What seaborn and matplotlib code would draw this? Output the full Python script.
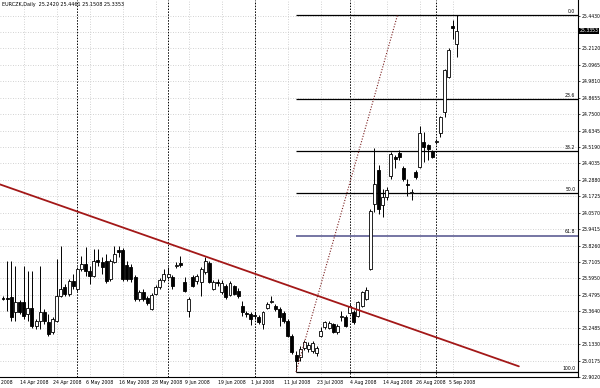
import numpy as np
import matplotlib
matplotlib.use("Agg")
import matplotlib.pyplot as plt
import seaborn as sns
from matplotlib.transforms import blended_transform_factory

# ---------------- data ----------------
chart_title = "EURCZK,Daily  25.2420 25.4461 25.1508 25.3353"

opens = [
    23.456, 23.456, 23.463, 23.358, 23.428, 23.428, 23.344, 23.386, 23.260, 23.295,
    23.358, 23.288, 23.218, 23.295, 23.470, 23.533, 23.484, 23.575, 23.519, 23.660,
    23.695, 23.646, 23.610, 23.723, 23.709, 23.716, 23.589, 23.709, 23.793, 23.793,
    23.688, 23.674, 23.603, 23.449, 23.498, 23.456, 23.379, 23.484, 23.533, 23.582,
    23.603, 23.603, 23.681, 23.702, 23.568, 23.365, 23.603, 23.575, 23.568, 23.639,
    23.702, 23.519, 23.568, 23.498, 23.540, 23.477, 23.540, 23.505, 23.400, 23.351,
    23.344, 23.337, 23.323, 23.274, 23.386, 23.428, 23.400, 23.379, 23.351, 23.295,
    23.190, 23.056, 23.042, 23.106, 23.099, 23.085, 23.071, 23.190, 23.253, 23.246,
    23.274, 23.218, 23.323, 23.323, 23.351, 23.358, 23.330, 23.400, 23.449, 23.660,
    24.115, 24.361, 24.108, 24.165, 24.312, 24.452, 24.480, 24.375, 24.256, 24.193,
    24.347, 24.382, 24.557, 24.536, 24.494, 24.557, 24.621, 24.767, 25.013, 25.371,
    25.242]
closes = [
    23.452, 23.449, 23.323, 23.428, 23.358, 23.330, 23.386, 23.260, 23.295, 23.358,
    23.295, 23.204, 23.309, 23.470, 23.519, 23.484, 23.575, 23.540, 23.660, 23.695,
    23.646, 23.610, 23.716, 23.709, 23.674, 23.575, 23.716, 23.765, 23.779, 23.589,
    23.589, 23.589, 23.449, 23.498, 23.449, 23.421, 23.477, 23.533, 23.582, 23.624,
    23.624, 23.540, 23.688, 23.688, 23.505, 23.449, 23.540, 23.610, 23.660, 23.716,
    23.568, 23.568, 23.565, 23.561, 23.463, 23.561, 23.484, 23.470, 23.358, 23.344,
    23.309, 23.330, 23.288, 23.358, 23.414, 23.435, 23.379, 23.323, 23.295, 23.190,
    23.078, 23.014, 23.099, 23.148, 23.127, 23.141, 23.106, 23.225, 23.288, 23.281,
    23.218, 23.260, 23.330, 23.260, 23.400, 23.288, 23.428, 23.498, 23.512, 24.066,
    24.256, 24.080, 24.165, 24.214, 24.473, 24.438, 24.452, 24.291, 24.249, 24.200,
    24.305, 24.621, 24.522, 24.508, 24.452, 24.560, 24.733, 25.062, 25.202, 25.357,
    25.335]
highs = [
    23.470, 23.716, 23.716, 23.681, 23.442, 23.681, 23.646, 23.646, 23.309, 23.681,
    23.379, 23.344, 23.323, 23.730, 23.821, 23.554, 23.589, 23.624, 23.674, 23.751,
    23.814, 23.681, 23.800, 23.800, 23.744, 23.765, 23.730, 23.821, 23.821, 23.807,
    23.716, 23.695, 23.617, 23.512, 23.519, 23.470, 23.491, 23.547, 23.596, 23.660,
    23.674, 23.617, 23.709, 23.751, 23.603, 23.463, 23.617, 23.624, 23.674, 23.744,
    23.716, 23.582, 23.589, 23.582, 23.554, 23.575, 23.547, 23.526, 23.435, 23.365,
    23.358, 23.358, 23.337, 23.365, 23.428, 23.470, 23.414, 23.393, 23.365, 23.309,
    23.204, 23.085, 23.120, 23.162, 23.148, 23.155, 23.120, 23.253, 23.295, 23.295,
    23.281, 23.274, 23.365, 23.337, 23.414, 23.372, 23.435, 23.505, 23.533, 24.080,
    24.515, 24.396, 24.221, 24.235, 24.487, 24.466, 24.501, 24.389, 24.291, 24.221,
    24.361, 24.668, 24.628, 24.543, 24.501, 24.578, 24.740, 25.069, 25.216, 25.413,
    25.446]
lows = [
    23.442, 23.365, 23.295, 23.295, 23.344, 23.309, 23.295, 23.246, 23.239, 23.239,
    23.274, 23.190, 23.204, 23.288, 23.463, 23.470, 23.470, 23.519, 23.505, 23.646,
    23.610, 23.554, 23.603, 23.681, 23.624, 23.561, 23.575, 23.702, 23.744, 23.575,
    23.575, 23.568, 23.435, 23.435, 23.435, 23.407, 23.372, 23.477, 23.519, 23.568,
    23.589, 23.519, 23.667, 23.674, 23.498, 23.323, 23.533, 23.554, 23.470, 23.624,
    23.561, 23.512, 23.540, 23.484, 23.449, 23.470, 23.477, 23.456, 23.330, 23.323,
    23.267, 23.309, 23.274, 23.239, 23.379, 23.421, 23.365, 23.260, 23.281, 23.183,
    23.063, 22.937, 23.014, 23.092, 23.078, 23.071, 23.049, 23.183, 23.239, 23.239,
    23.211, 23.204, 23.295, 23.253, 23.344, 23.274, 23.323, 23.393, 23.442, 23.653,
    24.059, 24.045, 24.024, 24.150, 24.291, 24.375, 24.431, 24.277, 24.172, 24.150,
    24.291, 24.375, 24.417, 24.431, 24.445, 24.543, 24.592, 24.733, 25.006, 25.280,
    25.151]

date_labels = ["2 Apr 2008", "14 Apr 2008", "24 Apr 2008", "6 May 2008", "16 May 2008",
               "28 May 2008", "9 Jun 2008", "19 Jun 2008", "1 Jul 2008", "11 Jul 2008",
               "23 Jul 2008", "4 Aug 2008", "14 Aug 2008", "26 Aug 2008", "5 Sep 2008"]
date_label_bars = [-3, 5, 13, 21, 29, 37, 45, 53, 61, 69, 77, 85, 93, 101, 109]
month_start_bars = [18, 40, 61, 84, 105]

price_ticks = [22.9020, 23.0175, 23.1330, 23.2485, 23.3640, 23.4795, 23.5950, 23.7105,
               23.8260, 23.9415, 24.0570, 24.1725, 24.2880, 24.4035, 24.5190, 24.6345,
               24.7500, 24.8655, 24.9810, 25.0965, 25.2120, 25.3275, 25.4430]
price_tick_labels = ["22.9020", "23.0175", "23.1330", "23.2485", "23.3640", "23.4795",
                     "23.5950", "23.7105", "23.8260", "23.9415", "24.0570", "24.1725",
                     "24.2880", "24.4035", "24.5190", "24.6345", "24.7500", "24.8655",
                     "24.9810", "25.0965", "25.2120", "", "25.4430"]
bid_price = 25.3353

trend_bars = [-1, 125]
trend_prices = [24.259, 22.977]

fib_high = 25.448
fib_low = 22.937
fib_start_bar = 71
fib_ratios = [0.0, 0.236, 0.382, 0.5, 0.618, 1.0]
fib_labels = ["0.0", "23.6", "38.2", "50.0", "61.8", "100.0"]
fib_diag_bars = [71, 95.6]
fib_diag_prices = [22.937, 25.448]

# ---------------- style ----------------
sns.set_theme(style="white")
plt.rcParams["font.family"] = ["DejaVu Sans"]

fig = plt.figure(figsize=(6, 3.88), dpi=100)
ax = fig.add_axes([0, 11 / 388, 578 / 600, 377 / 388])
x_min, x_max = -0.73, 139.33
ax.set_xlim(x_min, x_max)
ax.set_ylim(22.909, 25.553)
ax.set_facecolor("white")

grid_kw = dict(color="#c4c4c4", lw=0.6, ls=(0, (1, 2)), zorder=0)
for p in price_ticks:
    ax.axhline(p, **grid_kw)
for b in date_label_bars:
    ax.axvline(b, **grid_kw)
for b in month_start_bars:
    ax.axvline(b, color="black", lw=0.7, ls=(0, (1.5, 1.5)), zorder=1)

# candles
o = np.array(opens); c = np.array(closes); h = np.array(highs); l = np.array(lows)
idx = np.arange(len(o))
bull = c >= o
ax.vlines(idx, l, h, color="black", lw=0.7, zorder=3)
body_bottom = np.minimum(o, c)
body_h = np.maximum(np.abs(c - o), 0.003)
ax.bar(idx, body_h, bottom=body_bottom, width=0.72,
       color=np.where(bull, "white", "black"), edgecolor="black", linewidth=0.6, zorder=4)

# trend line
sns.lineplot(x=trend_bars, y=trend_prices, ax=ax, color="#a31818", lw=1.3, zorder=5)
# fibonacci diagonal
sns.lineplot(x=fib_diag_bars, y=fib_diag_prices, ax=ax, color="#7a2020", lw=0.8,
             linestyle=(0, (1, 1.5)), zorder=5)

# fibonacci levels
for r, lab in zip(fib_ratios, fib_labels):
    p = fib_high - r * (fib_high - fib_low)
    col = "#6a6a9c" if lab == "61.8" else "black"
    lw = 1.3 if lab == "61.8" else 0.9
    ax.hlines(p, fib_start_bar, x_max, color=col, lw=lw, zorder=2)
    ax.text(138.7, p + 0.008, lab, ha="right", va="bottom", fontsize=3.3, color="black", zorder=6)

# axes / ticks
for s in ["top", "left"]:
    ax.spines[s].set_visible(False)
for s in ["right", "bottom"]:
    ax.spines[s].set_color("black")
    ax.spines[s].set_linewidth(0.8)
ax.yaxis.tick_right()
ax.set_yticks(price_ticks)
ax.set_yticklabels(price_tick_labels)
ax.tick_params(axis="y", labelsize=3.3, length=1.5, width=0.5, pad=1.0, colors="black")
ax.set_xticks([])

trans = blended_transform_factory(ax.transData, ax.transAxes)
for b, lab in zip(date_label_bars, date_labels):
    ax.text(b - 1.0, -0.008, lab, transform=trans, ha="left", va="top",
            fontsize=3.3, color="black", clip_on=False)

ax.text(0.003, 0.995, chart_title, transform=ax.transAxes, ha="left", va="top",
        fontsize=3.5, color="black")

transy = blended_transform_factory(ax.transAxes, ax.transData)
ax.text(1.003, bid_price, f"{bid_price:.4f}", transform=transy, ha="left", va="center",
        fontsize=3.3, color="white", clip_on=False,
        bbox=dict(boxstyle="square,pad=0.15", fc="black", ec="none"))

fig.savefig("out.png", dpi=100)
